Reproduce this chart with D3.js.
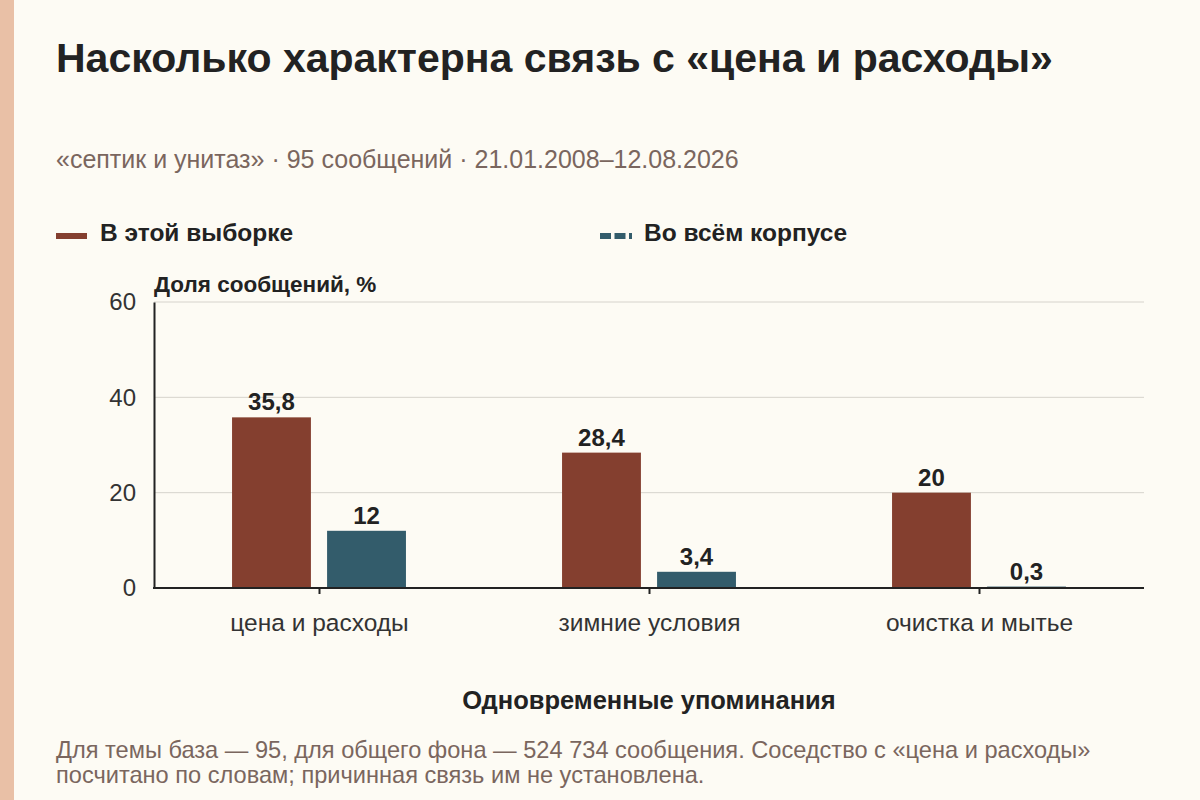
<!DOCTYPE html>
<html>
<head>
<meta charset="utf-8">
<script src="https://cdn.jsdelivr.net/npm/d3@7"></script>
<style>
  body { margin: 0; background: #fdfbf4; }
  svg { display: block; font-family: "Liberation Sans", Arial, sans-serif; }
</style>
</head>
<body>
<svg width="1200" height="800"></svg>
<script>

var categories = ["цена и расходы", "зимние условия", "очистка и мытье"];
var seriesNames = ["В этой выборке", "Во всём корпусе"];
var sampleValues = [35.8, 28.4, 20];
var corpusValues = [12, 3.4, 0.3];
var yTicks = [0, 20, 40, 60];

var colors = ["#843f2f", "#335c6b"];

var svg = d3.select("svg");
var plotL = 154, plotR = 1144, plotT = 302, plotB = 588;

function fmt(v) { return String(v).replace(".", ","); }

// left stripe
svg.append("rect").attr("x", 0).attr("y", 0).attr("width", 14).attr("height", 800).attr("fill", "#e9c0a6");

svg.append("text").attr("x", 56).attr("y", 72)
  .attr("font-size", 41).attr("font-weight", "bold").attr("fill", "#222")
  .text("Насколько характерна связь с «цена и расходы»");

svg.append("text").attr("x", 56).attr("y", 168)
  .attr("font-size", 25).attr("fill", "#7a665e")
  .text("«септик и унитаз» · 95 сообщений · 21.01.2008–12.08.2026");

// legend
var legend = svg.append("g");
legend.append("line").attr("x1", 56).attr("x2", 87).attr("y1", 236).attr("y2", 236)
  .attr("stroke", colors[0]).attr("stroke-width", 6);
legend.append("text").attr("x", 100).attr("y", 241).attr("font-size", 24.5)
  .attr("font-weight", "bold").attr("fill", "#222").text(seriesNames[0]);
legend.append("line").attr("x1", 600).attr("x2", 632).attr("y1", 236).attr("y2", 236)
  .attr("stroke", colors[1]).attr("stroke-width", 6).attr("stroke-dasharray", "11,3.5");
legend.append("text").attr("x", 644).attr("y", 241).attr("font-size", 24.5)
  .attr("font-weight", "bold").attr("fill", "#222").text(seriesNames[1]);

var y = d3.scaleLinear().domain([0, 60]).range([plotB, plotT]);
var x0 = d3.scaleBand().domain(categories).range([plotL, plotR])
  .paddingInner(0.473).paddingOuter(0.2365);
var x1 = d3.scaleBand().domain([0, 1]).range([0, x0.bandwidth()]).paddingInner(0.17);

// grid
svg.append("g").selectAll("line").data(yTicks.filter(function(d) { return d > 0; }))
  .join("line")
  .attr("x1", plotL).attr("x2", plotR)
  .attr("y1", function(d) { return y(d); }).attr("y2", function(d) { return y(d); })
  .attr("stroke", "#d6d3cc").attr("stroke-width", 1);

// y axis
var yAxis = svg.append("g").attr("transform", "translate(" + plotL + ",0)")
  .call(d3.axisLeft(y).tickValues(yTicks).tickSize(0).tickPadding(18));
yAxis.attr("font-family", null);
yAxis.select(".domain").attr("stroke", "#222").attr("stroke-width", 2);
yAxis.selectAll("text").attr("font-size", 24).attr("fill", "#333");

svg.append("text").attr("x", 154).attr("y", 292).attr("font-size", 22.5)
  .attr("font-weight", "bold").attr("fill", "#222").text("Доля сообщений, %");

// bars
var rows = categories.map(function(c, i) { return { cat: c, vals: [sampleValues[i], corpusValues[i]] }; });
var groups = svg.append("g").selectAll("g").data(rows).join("g")
  .attr("transform", function(d) { return "translate(" + x0(d.cat) + ",0)"; });

groups.selectAll("rect").data(function(d) { return d.vals; }).join("rect")
  .attr("x", function(d, i) { return x1(i); })
  .attr("y", function(d) { return y(d); })
  .attr("width", x1.bandwidth())
  .attr("height", function(d) { return plotB - y(d); })
  .attr("fill", function(d, i) { return colors[i]; });

groups.selectAll("text").data(function(d) { return d.vals; }).join("text")
  .attr("x", function(d, i) { return x1(i) + x1.bandwidth() / 2; })
  .attr("y", function(d) { return y(d) - 7; })
  .attr("text-anchor", "middle").attr("font-size", 24).attr("font-weight", "bold")
  .attr("fill", "#222")
  .text(function(d) { return fmt(d); });

// x axis
var xc = d3.scalePoint().domain(categories).range([x0(categories[0]) + x0.bandwidth() / 2,
  x0(categories[2]) + x0.bandwidth() / 2]);
var xAxis = svg.append("g").attr("transform", "translate(0," + plotB + ")")
  .call(d3.axisBottom(xc).tickSize(6).tickPadding(20).tickSizeOuter(0));
xAxis.attr("font-family", null);
xAxis.select(".domain").remove();
xAxis.append("line").attr("x1", plotL - 1).attr("x2", plotR).attr("y1", 0).attr("y2", 0)
  .attr("stroke", "#222").attr("stroke-width", 2);
xAxis.selectAll(".tick line").attr("stroke", "#222").attr("stroke-width", 2);
xAxis.selectAll("text").attr("font-size", 24.5).attr("fill", "#333");

svg.append("text").attr("x", 649).attr("y", 709).attr("text-anchor", "middle")
  .attr("font-size", 25.5).attr("font-weight", "bold").attr("fill", "#222")
  .text("Одновременные упоминания");

// footnote
var note = svg.append("text").attr("font-size", 23.6).attr("fill", "#7a665e");
note.append("tspan").attr("x", 56).attr("y", 758)
  .text("Для темы база — 95, для общего фона — 524 734 сообщения. Соседство с «цена и расходы»");
note.append("tspan").attr("x", 56).attr("y", 783)
  .text("посчитано по словам; причинная связь им не установлена.");

</script>
</body>
</html>
